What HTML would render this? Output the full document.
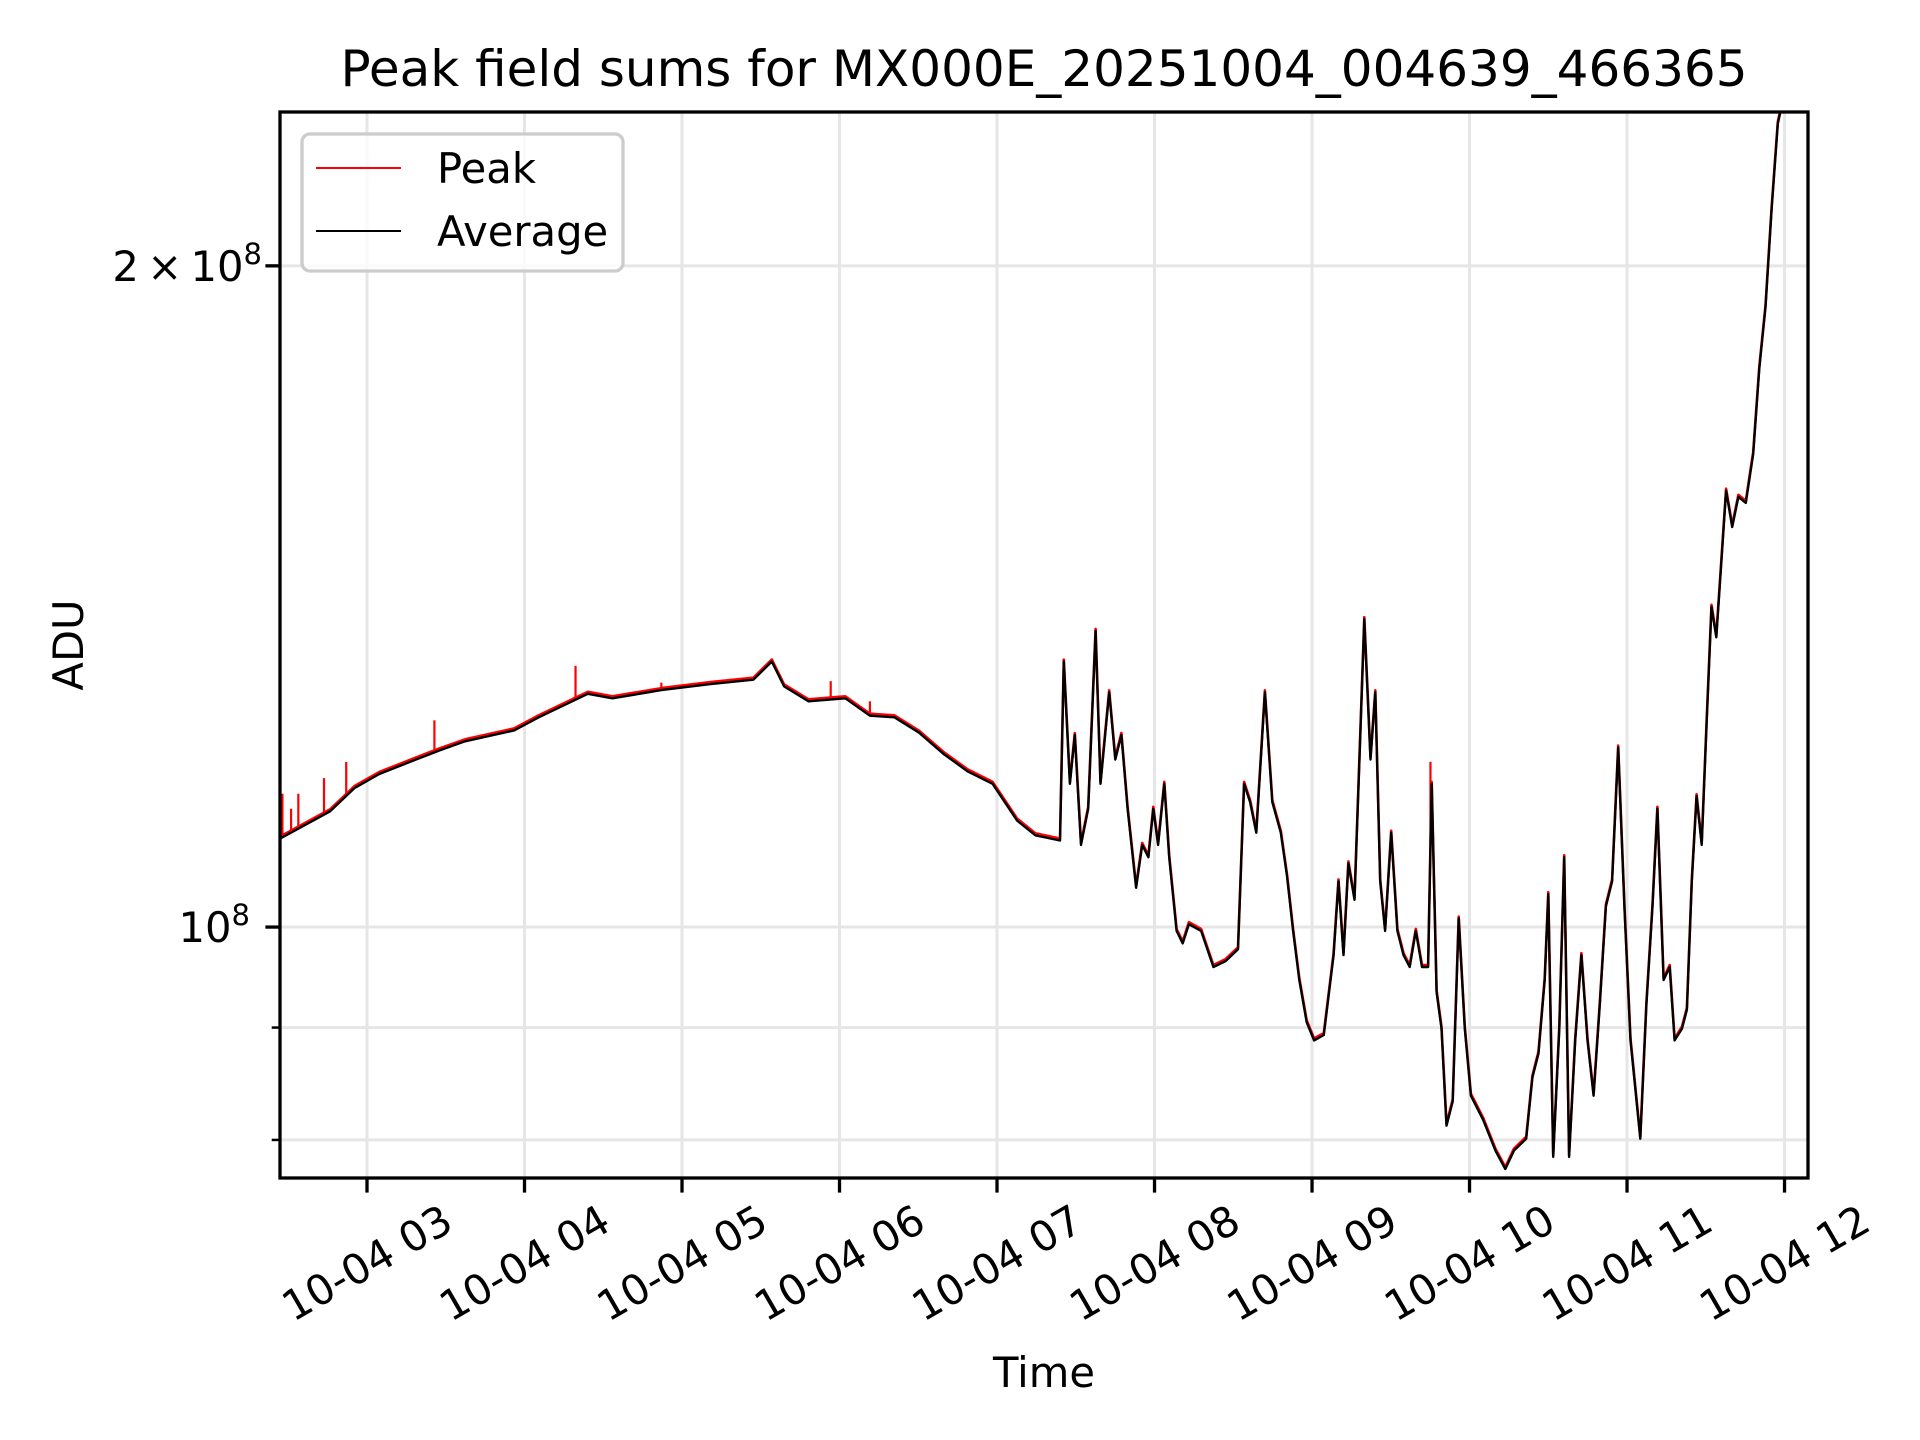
<!DOCTYPE html>
<html><head><meta charset="utf-8">
<style>
html,body{margin:0;padding:0;background:#fff;}
svg{display:block;font-family:"DejaVu Sans","Liberation Sans",sans-serif;}
</style></head>
<body>
<svg id="chart" xmlns="http://www.w3.org/2000/svg" width="1920" height="1440" viewBox="0 0 1920 1440">
<rect width="1920" height="1440" fill="#fff"/>
<g id="grid"></g>
<g id="series"></g>
<rect x="280" y="112" width="1528" height="1066" fill="none" stroke="#000" stroke-width="3.3"/>
<g id="axes"></g>
<text x="1044" y="86" font-size="50" text-anchor="middle">Peak field sums for MX000E_20251004_004639_466365</text>
<text x="1054" y="1399" font-size="41.7" text-anchor="middle" transform="translate(-10,-12)">Time</text>
<text x="0" y="0" font-size="41.7" text-anchor="middle" transform="translate(83,645) rotate(-90)">ADU</text>
<g>
<rect x="302" y="134" width="321" height="137" rx="8" fill="#fff" fill-opacity="0.8" stroke="#cccccc" stroke-width="3.3"/>
<line x1="316" y1="168" x2="401" y2="168" stroke="#ff0000" stroke-width="2"/>
<text x="437" y="183" font-size="41.7">Peak</text>
<line x1="316" y1="231" x2="401" y2="231" stroke="#000" stroke-width="2"/>
<text x="437" y="246" font-size="41.7">Average</text>
</g>
</svg>
<script>
// ---- data (time in decimal hours on 10-04, values in 1e6 ADU) ----
const avgTimes = [2.447,2.766,2.922,3.078,3.311,3.467,3.623,3.934,4.090,4.402,4.558,4.869,5.181,5.453,5.570,5.648,5.804,6.037,6.193,6.349,6.505,6.660,6.816,6.972,7.128,7.244,7.400,7.424,7.463,7.494,7.533,7.579,7.626,7.657,7.712,7.751,7.790,7.829,7.883,7.922,7.961,7.992,8.023,8.062,8.093,8.140,8.179,8.218,8.296,8.374,8.452,8.530,8.569,8.607,8.646,8.701,8.748,8.802,8.841,8.880,8.919,8.966,9.013,9.075,9.137,9.168,9.200,9.231,9.270,9.309,9.332,9.371,9.402,9.433,9.464,9.503,9.542,9.581,9.620,9.659,9.698,9.737,9.760,9.791,9.822,9.854,9.893,9.931,9.970,10.009,10.087,10.165,10.227,10.282,10.360,10.399,10.438,10.477,10.500,10.531,10.570,10.601,10.632,10.671,10.710,10.749,10.788,10.827,10.866,10.905,10.944,10.983,11.022,11.084,11.123,11.162,11.193,11.232,11.271,11.302,11.349,11.380,11.411,11.442,11.474,11.505,11.536,11.567,11.598,11.629,11.668,11.707,11.754,11.801,11.840,11.879,11.918,11.957,11.990];
const avgValues = [109.7,112.9,115.7,117.4,119.2,120.4,121.5,122.9,124.6,127.7,127.1,128.2,129.0,129.6,132.1,128.7,126.7,127.1,124.8,124.6,122.6,119.9,117.7,116.2,111.8,110.1,109.5,132.1,116.2,122.3,109.0,113.2,136.4,116.2,127.9,119.2,122.3,113.2,104.2,109.0,107.6,113.2,109.0,116.2,107.6,99.6,98.3,100.3,99.6,95.9,96.5,97.7,116.2,114.0,110.4,127.9,114.0,110.4,105.5,99.6,94.6,90.5,88.8,89.3,97.1,104.9,97.1,106.9,102.9,123.8,138.1,119.2,127.9,104.9,99.6,110.4,99.6,97.1,95.9,99.6,95.9,95.9,116.2,93.4,89.9,81.2,83.3,100.9,89.9,83.8,81.7,79.1,77.6,79.1,80.1,85.4,87.6,94.6,103.5,78.6,89.9,107.6,78.6,88.8,97.1,88.8,83.8,92.2,102.2,104.9,120.7,102.2,88.8,80.1,92.2,102.2,113.2,94.6,95.9,88.8,89.9,91.7,104.9,114.7,109.0,123.8,139.9,135.5,146.3,158.0,152.1,157.0,156.0,164.2,179.6,191.5,212.2,232.1,238.0];
const spikeTimes = [2.463,2.518,2.564,2.727,2.868,3.428,4.324,4.869,5.944,6.193,9.752];
const spikeValues = [115.0,113.2,115.0,116.9,118.9,124.2,131.5,129.2,129.4,126.7,118.9];
const xTickHours = [3,4,5,6,7,8,9,10,11,12];
const xTickLabels = ["10-04 03","10-04 04","10-04 05","10-04 06","10-04 07","10-04 08","10-04 09","10-04 10","10-04 11","10-04 12"];
const yMajorValues = [100,200];
const yMinorValues = [80,90];

const NS = "http://www.w3.org/2000/svg";
const X0 = 280, X1 = 1808, Y0 = 112, Y1 = 1178;
const T0 = 2.4476, T1 = 12.149;
const V0 = 76.87, V1 = 235.0;
function xs(t){ return X0 + (t - T0) / (T1 - T0) * (X1 - X0); }
function ys(v){ return Y1 - (Math.log10(v) - Math.log10(V0)) / (Math.log10(V1) - Math.log10(V0)) * (Y1 - Y0); }
function mk(tag, attrs, parent){ const e = document.createElementNS(NS, tag); for (const k in attrs) e.setAttribute(k, attrs[k]); parent.appendChild(e); return e; }

const grid = document.getElementById('grid');
const axes = document.getElementById('axes');
const series = document.getElementById('series');

xTickHours.forEach((h, i) => {
  const x = xs(h);
  const g = mk('line', {x1:x, y1:Y0, x2:x, y2:Y1, stroke:'#e6e6e6', 'stroke-width':3}, grid);
  
  
  const t = mk('line', {x1:x, y1:Y1, x2:x, y2:Y1 + 14.6, stroke:'#000', 'stroke-width':3.3}, axes);
  
  
  const lbl = mk('text', {x:x, y:1263, 'font-size':41.7, 'text-anchor':'middle', 'dominant-baseline':'central', transform:'rotate(-30,' + x + ',1263)'}, axes);
  lbl.textContent = xTickLabels[i];
  
  
});
yMajorValues.concat(yMinorValues).forEach(v => {
  const y = ys(v);
  const g = mk('line', {x1:X0, y1:y, x2:X1, y2:y, stroke:'#e6e6e6', 'stroke-width':3}, grid);
  
  
  const major = yMajorValues.includes(v);
  const t = mk('line', {x1:X0 - (major ? 14.6 : 8.3), y1:y, x2:X0, y2:y, stroke:'#000', 'stroke-width':major ? 3.3 : 2.5}, axes);
  
  
});
(function(){
  const y2 = ys(200);
  const l2 = mk('text', {x:262, y:y2 + 15, 'font-size':41.7, 'text-anchor':'end'}, axes);
  l2.innerHTML = '2\u2009×\u200910<tspan font-size="29" dy="-17">8</tspan>';
  
  
  const y1 = ys(100);
  const l1 = mk('text', {x:250, y:y1 + 15, 'font-size':41.7, 'text-anchor':'end'}, axes);
  l1.innerHTML = '10<tspan font-size="29" dy="-17">8</tspan>';
  
  
})();

const clip = mk('clipPath', {id:'plotclip'}, series);
mk('rect', {x:X0, y:Y0, width:X1 - X0, height:Y1 - Y0}, clip);
const sg = mk('g', {'clip-path':'url(#plotclip)'}, series);

function interpAvg(t){
  for (let i = 1; i < avgTimes.length; i++) {
    if (t <= avgTimes[i]) { const f = (t - avgTimes[i-1]) / (avgTimes[i] - avgTimes[i-1]); return avgValues[i-1] + f * (avgValues[i] - avgValues[i-1]); }
  }
  return avgValues[avgValues.length - 1];
}
const pts = avgTimes.map((t, i) => xs(t).toFixed(1) + ',' + ys(avgValues[i]).toFixed(1)).join(' ');
const peak = mk('polyline', {points:pts, fill:'none', stroke:'#ff0000', 'stroke-width':2.6, 'stroke-linejoin':'round', transform:'translate(0,-2)'}, sg);


spikeTimes.forEach((t, i) => {
  const s = mk('line', {x1:xs(t), y1:ys(interpAvg(t)), x2:xs(t), y2:ys(spikeValues[i]), stroke:'#ff0000', 'stroke-width':2.2}, sg);
  
  
});
const avg = mk('polyline', {points:pts, fill:'none', stroke:'#000', 'stroke-width':2.4, 'stroke-linejoin':'round'}, sg);


</script>
</body></html>
